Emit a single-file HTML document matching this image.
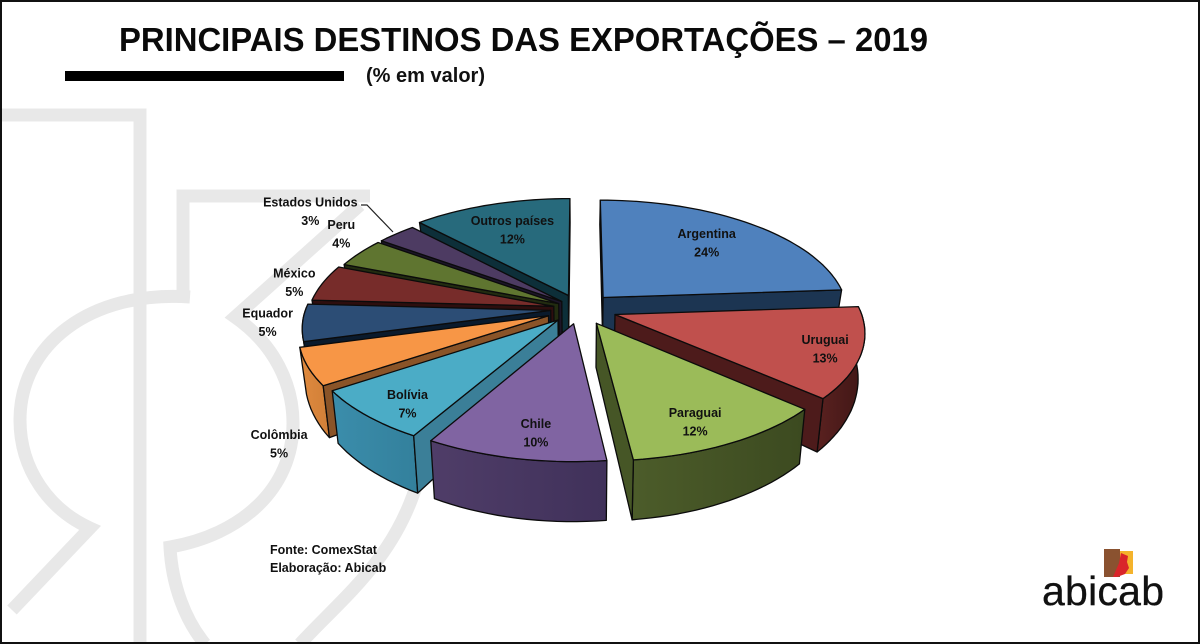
<!DOCTYPE html>
<html lang="pt">
<head>
<meta charset="utf-8">
<title>Principais destinos das exportações – 2019</title>
<style>
html,body{margin:0;padding:0;background:#fff;width:1200px;height:644px;overflow:hidden}
svg{display:block;font-family:"Liberation Sans",sans-serif}
</style>
</head>
<body>
<svg id="chart" xmlns="http://www.w3.org/2000/svg" width="1200" height="644" viewBox="0 0 1200 644">
  <rect width="1200" height="644" fill="#fff"/>
  <g fill="none" stroke="#e8e8e8" stroke-width="13">
    <path d="M2 115H140V644"/>
    <path d="M370 196H183V297"/>
    <path d="M190 297C90 290 20 345 20 420C20 470 50 510 90 528L12 610"/>
    <path d="M360 205L235 317C275 345 293 385 293 423C293 490 240 535 170 547C172 585 185 620 205 644"/>
    <path d="M418 480C395 560 340 600 300 644"/>
  </g>
  <rect x="1" y="1" width="1198" height="642" fill="none" stroke="#111" stroke-width="2"/>
  <text x="119" y="51" font-size="33" font-weight="700" fill="#0a0a0a" textLength="809" lengthAdjust="spacingAndGlyphs">PRINCIPAIS DESTINOS DAS EXPORTAÇÕES – 2019</text>
  <rect x="65" y="71" width="279" height="10" fill="#000"/>
  <text x="366" y="82" font-size="20" font-weight="700" fill="#111" textLength="119" lengthAdjust="spacingAndGlyphs">(% em valor)</text>
  <g id="pie"></g>
  <path d="M361 205H367L393 232" fill="none" stroke="#222" stroke-width="1.2"/>
  <text font-size="12.5" font-weight="700" fill="#111">
    <tspan x="270" y="554">Fonte: ComexStat</tspan>
    <tspan x="270" y="572">Elaboração: Abicab</tspan>
  </text>
  <g>
    <rect x="1118" y="551" width="15" height="23" fill="#f4b32c"/>
    <rect x="1104" y="549" width="16" height="28" fill="#8a5230"/>
    <path d="M1121 553L1128 556L1127 562L1129 568L1125 574L1117 577L1113 577L1116 570L1119 563Z" fill="#d9252a"/>
    <text x="1042" y="605" font-size="41" fill="#111" stroke="#111" stroke-width="0.3" textLength="122" lengthAdjust="spacing">abicab</text>
  </g>
</svg>
<script>
const categories = ["Argentina","Uruguai","Paraguai","Chile","Bolívia","Colômbia","Equador","México","Peru","Estados Unidos","Outros países"];
const shares = [24,13,12,10,7,5,5,5,4,3,12];

const topColors = ["#4f81bd","#c0504d","#9bbb59","#8064a2","#4bacc6","#f79646","#2c4d75","#772c2a","#5f7530","#4d3b62","#276a7c"];
const wallColors = ["#23405f","#5a2120","#4c5c2a","#4f3d68","#3b8dab","#e08a3e","#0f2035","#3a1212","#2a3515","#231a30","#0f3540"];
const wallShadeColors = ["#23405f","#3f1615","#3c4a20","#40315a","#33809c","#d07f38","#0f2035","#3a1212","#2a3515","#231a30","#0f3540"];
const radialColors = ["#1c3552","#4d1b1b","#465626","#453559","#3b7f98","#8a5428","#0a1a2c","#2d0e0e","#222c10","#1c1528","#0d2f39"];

const explodeBy = [0.14,0.15,0.14,0.13,0.13,0.14,0.12,0.11,0.10,0.10,0.13];
const labelRadius = [0.71,0.86,0.82,0.825,0.845,1.33,1.14,1.12,1.20,1.49,0.70];
const labelTurn = [-2,0.5,3,-2.2,-3,-20.5,1,-1,6,-3.5,0];

const CX = 580, CY = 309, RX = 245, RY = 114, PERSP = 0.14;
const NS = "http://www.w3.org/2000/svg";
const total = shares.reduce(function (a, b) { return a + b; }, 0);

function angleScale(deg) {
  const d = (deg - 180) / 65;
  return (deg - 3.2 * Math.exp(-d * d)) * Math.PI / 180;
}
function project(x, y, z) {
  const s = 1 / (1 + PERSP * y);
  return [CX + RX * x * s * (1 - 0.024 * z), CY - RY * y * s + z * (42 - 16 * y)];
}
function fmt(p) { return p[0].toFixed(1) + " " + p[1].toFixed(1); }
function pathOf(points) { return "M" + points.map(fmt).join("L") + "Z"; }

const pie = document.getElementById("pie");
const defs = document.createElementNS(NS, "defs");
pie.appendChild(defs);

const slices = [];
let running = 0;
shares.forEach(function (value, i) {
  const a0 = running / total * 360;
  running += value;
  const a1 = running / total * 360;
  const mid = (a0 + a1) / 2;
  const midRad = angleScale(mid);
  slices.push({ i: i, a0: a0, a1: a1, mid: mid,
    ox: explodeBy[i] * Math.sin(midRad), oy: explodeBy[i] * Math.cos(midRad) });
});

function rimAngles(s) {
  const list = [];
  const n = Math.max(2, Math.ceil((s.a1 - s.a0) / 2));
  for (let k = 0; k <= n; k++) {
    list.push(angleScale(s.a0 + (s.a1 - s.a0) * k / n));
  }
  return list;
}
function rimPoint(s, t, z) {
  return project(s.ox + Math.sin(t), s.oy + Math.cos(t), z);
}
function faces(apex, corner, inner) {
  const ex = corner[0] - apex[0];
  const ey = corner[1] - apex[1];
  const crossDown = ex;
  const crossInner = ex * (inner[1] - apex[1]) - ey * (inner[0] - apex[0]);
  return crossDown * crossInner < 0;
}

function drawSlice(s) {
  const i = s.i;
  const name = categories[i].toLowerCase().replace(/[^a-zà-ú]+/g, "-");
  const group = document.createElementNS(NS, "g");
  
  

  const grad = document.createElementNS(NS, "linearGradient");
  grad.setAttribute("id", "wall-grad-" + i);
  const stopA = document.createElementNS(NS, "stop");
  stopA.setAttribute("offset", "0");
  stopA.setAttribute("stop-color", wallColors[i]);
  const stopB = document.createElementNS(NS, "stop");
  stopB.setAttribute("offset", "1");
  stopB.setAttribute("stop-color", wallShadeColors[i]);
  grad.appendChild(stopA);
  grad.appendChild(stopB);
  defs.appendChild(grad);

  const angles = rimAngles(s);
  const apexTop = project(s.ox, s.oy, 0);
  const apexBase = project(s.ox, s.oy, 1);
  const rimTop = angles.map(function (t) { return rimPoint(s, t, 0); });
  const rimBase = angles.map(function (t) { return rimPoint(s, t, 1); });
  const inner = rimTop[Math.floor(rimTop.length / 2)];
  const last = rimTop.length - 1;

  const frontAngles = angles.filter(function (t) { return Math.cos(t) < 0.05; });
  if (frontAngles.length > 1) {
    const frontTop = frontAngles.map(function (t) { return rimPoint(s, t, 0); });
    const frontBase = frontAngles.map(function (t) { return rimPoint(s, t, 1); });
    const outer = document.createElementNS(NS, "path");
    
    
    outer.setAttribute("d", pathOf(frontTop.concat(frontBase.reverse())));
    outer.setAttribute("fill", "url(#wall-grad-" + i + ")");
    outer.setAttribute("stroke", "#0b0b0b");
    outer.setAttribute("stroke-width", "1.3");
    outer.setAttribute("stroke-linejoin", "round");
    group.appendChild(outer);
  }

  if (faces(apexTop, rimTop[0], inner)) {
    const wall0 = document.createElementNS(NS, "path");
    
    
    wall0.setAttribute("d", pathOf([apexTop, rimTop[0], rimBase[0], apexBase]));
    wall0.setAttribute("fill", radialColors[i]);
    wall0.setAttribute("stroke", "#0b0b0b");
    wall0.setAttribute("stroke-width", "1.3");
    wall0.setAttribute("stroke-linejoin", "round");
    group.appendChild(wall0);
  }

  if (faces(apexTop, rimTop[last], inner)) {
    const wall1 = document.createElementNS(NS, "path");
    
    
    wall1.setAttribute("d", pathOf([apexTop, rimTop[last], rimBase[last], apexBase]));
    wall1.setAttribute("fill", radialColors[i]);
    wall1.setAttribute("stroke", "#0b0b0b");
    wall1.setAttribute("stroke-width", "1.3");
    wall1.setAttribute("stroke-linejoin", "round");
    group.appendChild(wall1);
  }

  const top = document.createElementNS(NS, "path");
  
  
  top.setAttribute("d", pathOf([apexTop].concat(rimTop)));
  top.setAttribute("fill", topColors[i]);
  top.setAttribute("stroke", "#0b0b0b");
  top.setAttribute("stroke-width", "1.3");
  top.setAttribute("stroke-linejoin", "round");
  group.appendChild(top);

  pie.appendChild(group);
}

function drawLabel(s) {
  const i = s.i;
  const t = angleScale(s.mid + labelTurn[i]);
  const r = labelRadius[i];
  const p = project(s.ox + r * Math.sin(t), s.oy + r * Math.cos(t), 0);
  const text = document.createElementNS(NS, "text");
  
  
  text.setAttribute("text-anchor", "middle");
  text.setAttribute("font-size", "12.5");
  text.setAttribute("font-weight", "700");
  text.setAttribute("fill", "#111");
  const line1 = document.createElementNS(NS, "tspan");
  
  
  line1.setAttribute("x", p[0].toFixed(1));
  line1.setAttribute("y", (p[1] - 4.5).toFixed(1));
  line1.textContent = categories[i];
  const line2 = document.createElementNS(NS, "tspan");
  
  
  line2.setAttribute("x", p[0].toFixed(1));
  line2.setAttribute("y", (p[1] + 14).toFixed(1));
  line2.textContent = shares[i] + "%";
  text.appendChild(line1);
  text.appendChild(line2);
  pie.appendChild(text);
}

slices.slice().sort(function (a, b) {
  return Math.cos(angleScale(b.mid)) - Math.cos(angleScale(a.mid));
}).forEach(drawSlice);
slices.forEach(drawLabel);
</script>
</body>
</html>
